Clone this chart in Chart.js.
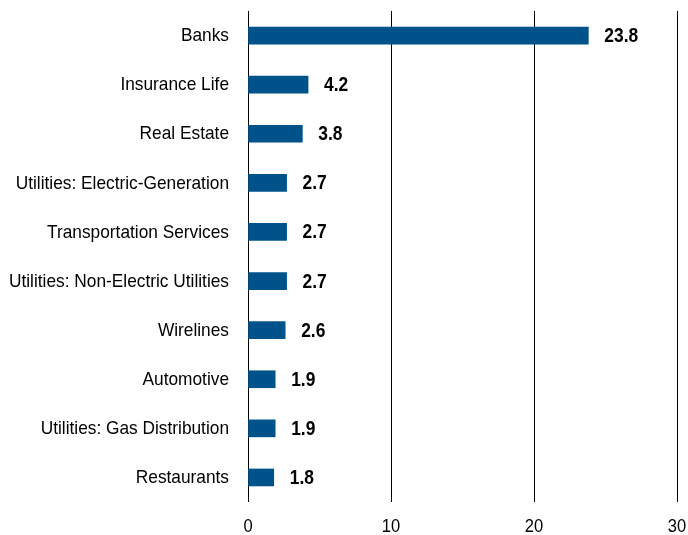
<!DOCTYPE html>
<html>
<head>
<meta charset="utf-8">
<script src="https://cdn.jsdelivr.net/npm/chart.js@4"></script>
<style>
  html, body { margin: 0; padding: 0; background: #fff; }
</style>
</head>
<body>
<canvas id="chart" width="688" height="535"></canvas>
<script>
const categories = [
    'Banks', 'Insurance Life', 'Real Estate', 'Utilities: Electric-Generation',
    'Transportation Services', 'Utilities: Non-Electric Utilities', 'Wirelines',
    'Automotive', 'Utilities: Gas Distribution', 'Restaurants'
];
const values = [23.8, 4.2, 3.8, 2.7, 2.7, 2.7, 2.6, 1.9, 1.9, 1.8];
const xTicks = [0, 10, 20, 30];

const FONT = '"Liberation Sans", Arial, sans-serif';

// draw text squeezed horizontally (looks like Arial Narrow)
function narrowText(ctx, text, x, y, align, squeeze) {
    ctx.save();
    ctx.translate(x, y);
    ctx.scale(squeeze, 1);
    ctx.textAlign = align;
    ctx.fillText(text, 0, 0);
    ctx.restore();
}

const textLayer = {
    id: 'textLayer',
    afterDraw: function(chart) {
        const ctx = chart.ctx;
        const meta = chart.getDatasetMeta(0);
        const xs = chart.scales.x;
        const ys = chart.scales.y;
        ctx.save();
        ctx.fillStyle = '#000';
        ctx.textBaseline = 'middle';

        // category labels
        ctx.font = '19px ' + FONT;
        categories.forEach(function(c, i) {
            narrowText(ctx, c, 229, ys.getPixelForValue(i) + 0.5, 'right', 0.91);
        });

        // x axis labels
        xTicks.forEach(function(v) {
            narrowText(ctx, String(v), xs.getPixelForValue(v), 527, 'center', 0.87);
        });

        // value labels
        ctx.font = 'bold 20px ' + FONT;
        meta.data.forEach(function(bar, i) {
            narrowText(ctx, values[i].toFixed(1), bar.x + 16, bar.y + 1, 'left', 0.87);
        });
        ctx.restore();
    }
};

document.addEventListener('DOMContentLoaded', function() {
    const ctx = document.getElementById('chart').getContext('2d');
    new Chart(ctx, {
        type: 'bar',
        data: {
            labels: categories,
            datasets: [{
                data: values,
                backgroundColor: '#00538A',
                borderWidth: 0,
                barThickness: 17
            }]
        },
        options: {
            indexAxis: 'y',
            responsive: false,
            animation: false,
            devicePixelRatio: 1,
            layout: { padding: { top: 11, right: 11, bottom: 33, left: 0 } },
            plugins: { legend: { display: false }, tooltip: { enabled: false } },
            scales: {
                x: {
                    min: 0,
                    max: 30,
                    afterBuildTicks: function(axis) {
                        axis.ticks = xTicks.map(function(v) { return { value: v }; });
                    },
                    afterFit: function(axis) { axis.height = 0; },
                    grid: { color: '#000', lineWidth: 1, drawTicks: false },
                    border: { display: false },
                    ticks: { display: false }
                },
                y: {
                    grid: { display: false },
                    border: { display: false },
                    afterFit: function(axis) { axis.width = 248; },
                    ticks: { display: false }
                }
            }
        },
        plugins: [textLayer]
    });
});
</script>
</body>
</html>
